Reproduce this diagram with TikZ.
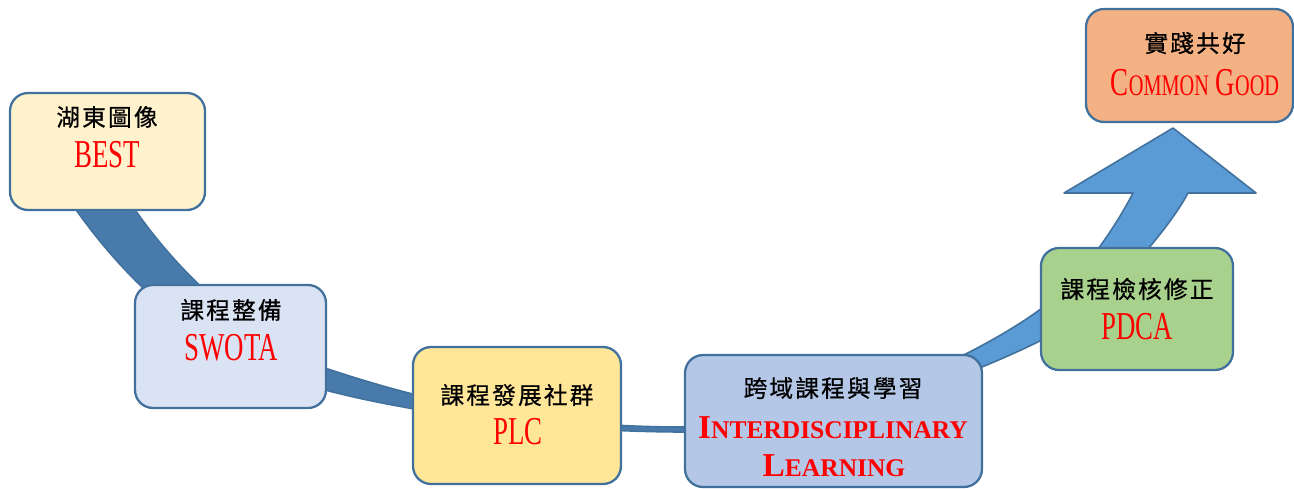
\documentclass[tikz,border=0pt]{standalone}
\usepackage{fontspec}
\setmainfont{Liberation Serif}
\newfontfamily\cjk[LetterSpace=9, FakeBold=0.6]{Noto Sans CJK TC}
\newfontfamily\condfont[FakeStretch=0.68]{Liberation Serif}

\definecolor{boxline}{HTML}{41719C}
\definecolor{banddark}{HTML}{487BAC}
\definecolor{bandlight}{HTML}{5B9BD5}
\definecolor{bestfill}{HTML}{FFF2CC}
\definecolor{swotafill}{HTML}{DAE3F3}
\definecolor{plcfill}{HTML}{FFE699}
\definecolor{interfill}{HTML}{B4C7E7}
\definecolor{pdcafill}{HTML}{A9D18E}
\definecolor{goodfill}{HTML}{F4B183}

% outline of the curved band that ends in the arrow head
\newcommand\bandpath{(30,130) .. controls (70,220) and (178,360) .. (325,390)
  .. controls (420,415) and (560,432) .. (685,432)
  .. controls (800,432) and (930,395) .. (1042,340)
  .. controls (1100,312) and (1170,228) .. (1188,193)
  -- (1256,193) -- (1173,128) -- (1064,193) -- (1133,193)
  .. controls (1118,222) and (1085,275) .. (1042,308)
  .. controls (1000,340) and (850,427) .. (685,427)
  .. controls (560,427) and (450,410) .. (325,368)
  .. controls (250,343) and (146,252) .. (95,140) -- cycle}

\newcommand\capfirst[3]{{\fontsize{#1}{#1}\selectfont #2}{\fontsize{14.5}{17}\selectfont #3}}

\tikzset{
  stagebox/.style={draw=boxline, line width=1.3pt, rounded corners=0.36cm, inner sep=0pt},
  cntext/.style={font=\cjk\fontsize{13.5}{15}\selectfont, text=black, inner sep=0pt},
  entext/.style={font=\condfont\fontsize{22.5}{24}\selectfont, text=red, inner sep=0pt},
  sctext/.style={font=\bfseries, text=red, inner sep=0pt}
}

\begin{document}
\begin{tikzpicture}[x=0.02cm, y=-0.02cm]
    \useasboundingbox (0,0) rectangle (1294,488);

    % Band: light blue all along, dark blue on the left part
    \fill[bandlight] \bandpath;
    \begin{scope}
        \clip (0,0) rectangle (820,488);
        \fill[banddark] \bandpath;
    \end{scope}
    \draw[boxline, line width=0.9pt, line join=round] \bandpath;

    % Stage boxes
    \node[stagebox, fill=bestfill, minimum width=3.9cm, minimum height=2.34cm] (best) at (107.5,151.5) {};
    \node[stagebox, fill=swotafill, minimum width=3.82cm, minimum height=2.46cm] (swota) at (230.5,346.5) {};
    \node[stagebox, fill=plcfill, minimum width=4.16cm, minimum height=2.74cm] (plc) at (517,415.5) {};
    \node[stagebox, fill=interfill, minimum width=5.94cm, minimum height=2.64cm] (inter) at (833.5,421) {};
    \node[stagebox, fill=pdcafill, minimum width=3.84cm, minimum height=2.44cm] (pdca) at (1137,309) {};
    \node[stagebox, fill=goodfill, minimum width=4.14cm, minimum height=2.26cm] (good) at (1189.5,65.5) {};

    % Labels
    \node[cntext] (bestcn) at (107,117) {湖東圖像};
    \node[entext] (besten) at (107,155) {BEST};

    \node[cntext] (swotacn) at (231,310) {課程整備};
    \node[entext] (swotaen) at (231,348) {SWOTA};

    \node[cntext] (plccn) at (517,395) {課程發展社群};
    \node[entext] (plcen) at (518,432) {PLC};

    \node[cntext] (intercn) at (833,388) {跨域課程與學習};
    \node[sctext] (interen) at (833,428) {\capfirst{19}{I}{NTERDISCIPLINARY}};
    \node[sctext] (interlearn) at (834,466) {\capfirst{19}{L}{EARNING}};

    \node[cntext] (pdcacn) at (1137,289) {課程檢核修正};
    \node[entext] (pdcaen) at (1137,327) {PDCA};

    \node[cntext] (goodcn) at (1195,43) {實踐共好};
    \node[entext] (gooden) at (1195,83) {C{\fontsize{17}{20}\selectfont OMMON} G{\fontsize{17}{20}\selectfont OOD}};
\end{tikzpicture}
\end{document}
